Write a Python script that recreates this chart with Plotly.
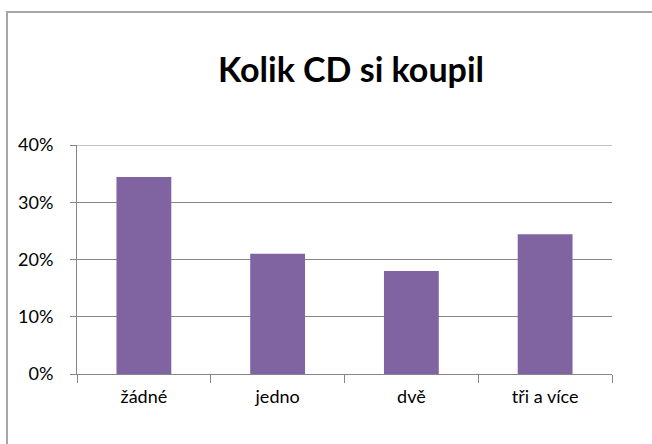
import plotly.graph_objects as go

categories = ["žádné", "jedno", "dvě", "tři a více"]
values = [0.344, 0.210, 0.180, 0.244]
y_ticks = [0, 0.1, 0.2, 0.3, 0.4]
y_tick_labels = ["0%", "10%", "20%", "30%", "40%"]
title_text = "Kolik CD si koupil"

W, H = 652, 444
L, R, T, B = 77, 652 - 612, 145, 444 - 374
pw, ph = W - L - R, H - T - B

def px_to_paper_x(px):
    return (px - L) / pw

def px_to_paper_y(py):
    return (H - B - py) / ph

fig = go.Figure(
    go.Bar(x=categories, y=values, marker=dict(color="#8064A2", line=dict(width=0)))
)

fig.update_layout(
    width=W, height=H,
    margin=dict(l=L, r=R, t=T, b=B),
    paper_bgcolor="white", plot_bgcolor="white",
    bargap=0.59,
    showlegend=False,
    title=dict(
        text=title_text,
        x=351 / W, xanchor="center", xref="container",
        y=1 - 70 / H, yanchor="middle", yref="container",
        font=dict(family="Lato", size=34, color="#000000", weight="bold"),
    ),
    font=dict(family="Lato", color="#000000"),
)

fig.update_xaxes(
    showline=True, linecolor="#868686", linewidth=1,
    ticks="outside", tickson="boundaries", ticklen=8, tickcolor="#868686",
    tickfont=dict(size=18, color="#000000"),
    ticklabelstandoff=6,
    showgrid=False, zeroline=False,
)
fig.update_yaxes(
    range=[0, 0.4],
    tickvals=y_ticks, ticktext=y_tick_labels,
    showline=True, linecolor="#868686", linewidth=1,
    ticks="outside", ticklen=6, tickcolor="#868686",
    tickfont=dict(size=18, color="#000000"),
    ticklabelstandoff=13,
    showgrid=True, gridcolor="#868686", gridwidth=1,
    zeroline=False,
)

# top gridline at the range edge (40%)
fig.add_shape(
    type="line", xref="paper", yref="y",
    x0=0, x1=1, y0=y_ticks[-1], y1=y_ticks[-1],
    line=dict(color="#868686", width=1),
    layer="below",
)

# outer chart frame (partially cut off at right/bottom as in the reference)
fig.add_shape(
    type="rect", xref="paper", yref="paper",
    x0=px_to_paper_x(7), x1=px_to_paper_x(653),
    y0=px_to_paper_y(460), y1=px_to_paper_y(12),
    line=dict(color="#A6A6A6", width=2), fillcolor="rgba(0,0,0,0)",
    layer="below",
)

fig.write_html(
    "out.html",
    config={"displayModeBar": False},
    post_script="document.body.style.margin='0px';document.body.style.overflow='hidden';",
)
